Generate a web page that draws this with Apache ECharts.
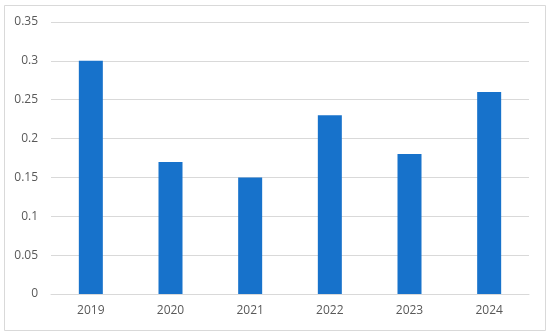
<!DOCTYPE html>
<html>
<head>
  <meta charset="utf-8">
</head>
<body style="margin: 0">
  <div id="container" style="width: 550px; height: 336px"></div>
  <script type="text/javascript" src="https://cdn.jsdelivr.net/npm/echarts@6/dist/echarts.min.js"></script>
  <script type="text/javascript">
    var years = ['2019', '2020', '2021', '2022', '2023', '2024'];
    var values = [0.30, 0.17, 0.15, 0.23, 0.18, 0.26];

    var myChart = echarts.init(document.getElementById('container'), null, { renderer: 'canvas' });

    var option = {
      backgroundColor: '#fff',
      animation: false,
      graphic: [{
        type: 'rect',
        shape: { x: 4.5, y: 5.5, width: 541, height: 325 },
        style: { fill: 'none', stroke: '#d9d9d9', lineWidth: 1 }
      }],
      grid: { left: 51, right: 21, top: 22, bottom: 42 },
      xAxis: {
        type: 'category',
        data: years,
        axisLine: { show: true, lineStyle: { color: '#d9d9d9' } },
        axisTick: { show: false },
        axisLabel: { color: '#595959', fontSize: 12, fontFamily: 'Open Sans', margin: 11 }
      },
      yAxis: {
        type: 'value',
        min: 0,
        max: 0.35,
        interval: 0.05,
        axisLine: { show: false },
        axisTick: { show: false },
        splitLine: { lineStyle: { color: '#d9d9d9' } },
        axisLabel: { color: '#595959', fontSize: 12, fontFamily: 'Open Sans', margin: 13 }
      },
      series: [{
        type: 'bar',
        data: values,
        barWidth: 24,
        itemStyle: { color: '#1772cb' }
      }]
    };
    myChart.setOption(option);
    window.addEventListener('resize', myChart.resize);
  </script>
</body>
</html>
